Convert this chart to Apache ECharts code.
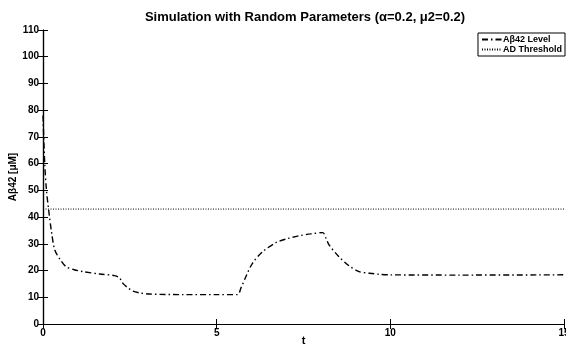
<!DOCTYPE html>
<html>
<head>
<meta charset="utf-8">
<script src="https://cdn.jsdelivr.net/npm/echarts@6/dist/echarts.min.js"></script>
<style>
  html, body { margin: 0; padding: 0; background: #fff; }
  #chart { width: 566px; height: 346px; }
</style>
</head>
<body>
<div id="chart"></div>
<script>
// values
const tValues = [0, 0.05, 0.1, 0.16, 0.25, 0.34, 0.5, 0.67, 0.9, 1.15, 1.63, 2.06, 2.2, 2.3, 2.45,
  2.59, 2.8, 3.07, 4, 5, 5.6, 5.7, 5.84, 6.03, 6.32, 6.7, 7.0, 7.37, 7.7, 8.05, 8.15, 8.24,
  8.52, 8.81, 9.1, 9.4, 9.67, 10, 12, 15];
const levelValues = [78, 60, 50, 43, 34, 27.7, 24, 21.4, 20.3, 19.6, 18.7, 18.1, 17.3, 15.2, 13.5,
  12.3, 11.6, 11.2, 11, 11, 11, 13.5, 17.7, 22.7, 27, 30.4, 31.8, 33.0, 33.7, 34.2, 32, 29.5,
  25.2, 21.8, 19.6, 19.0, 18.6, 18.4, 18.3, 18.4];
const thresholdT = [0, 15];
const thresholdValues = [43, 43];

const font = 'Liberation Sans, Arial, sans-serif';
const chart = echarts.init(document.getElementById('chart'));

const tickStyle = { inside: true, length: 5, lineStyle: { color: '#000', width: 1 } };
const lineStyle = { color: '#000', width: 1.2 };

chart.setOption({
  animation: false,
  backgroundColor: '#fff',
  title: {
    text: 'Simulation with Random Parameters (\u03b1=0.2, \u03bc2=0.2)',
    left: 305,
    textAlign: 'center',
    top: 11,
    padding: 0,
    textStyle: { fontFamily: font, fontSize: 13, fontWeight: 'bold', color: '#000' }
  },
  legend: {
    right: 1,
    top: 33,
    orient: 'vertical',
    itemGap: 1,
    itemWidth: 20,
    itemHeight: 8,
    padding: [2, 3, 2, 3],
    borderColor: '#000',
    borderWidth: 1,
    backgroundColor: '#fff',
    itemStyle: { opacity: 0 },
    textStyle: { fontFamily: font, fontSize: 9, fontWeight: 'bold', color: '#000', padding: [0, 0, 0, -4] },
    data: ['A\u03b242 Level', 'AD Threshold']
  },
  grid: { left: 43, right: 2, top: 30, bottom: 22, outerBoundsMode: 'none' },
  xAxis: [
    {
      type: 'value', min: 0, max: 15, interval: 5,
      name: 't', nameLocation: 'middle', nameGap: 11, nameMoveOverlap: false,
      nameTextStyle: { fontFamily: font, fontSize: 11, fontWeight: 'bold', color: '#000', verticalAlign: 'top' },
      axisLine: { lineStyle: lineStyle },
      axisTick: tickStyle,
      axisLabel: { fontFamily: font, fontSize: 10, fontWeight: 'bold', color: '#000', margin: 4 },
      splitLine: { show: false }
    },
    {
      type: 'value', min: 0, max: 15, interval: 5, position: 'top',
      axisLine: { lineStyle: lineStyle },
      axisTick: tickStyle,
      axisLabel: { show: false },
      splitLine: { show: false }
    }
  ],
  yAxis: [
    {
      type: 'value', min: 0, max: 110, interval: 10,
      name: 'A\u03b242 [\u03bcM]', nameLocation: 'middle', nameGap: 25, nameMoveOverlap: false,
      nameTextStyle: { fontFamily: font, fontSize: 10, fontWeight: 'bold', color: '#000' },
      axisLine: { show: true, lineStyle: lineStyle },
      axisTick: tickStyle,
      axisLabel: { fontFamily: font, fontSize: 10, fontWeight: 'bold', color: '#000', margin: 4 },
      splitLine: { show: false }
    },
    {
      type: 'value', min: 0, max: 110, interval: 10, position: 'right',
      axisLine: { show: true, lineStyle: lineStyle },
      axisTick: tickStyle,
      axisLabel: { show: false },
      splitLine: { show: false }
    }
  ],
  series: [
    {
      name: 'A\u03b242 Level',
      type: 'line',
      smooth: 0.3,
      showSymbol: false,
      symbol: 'none',
      color: '#000',
      lineStyle: { color: '#000', width: 1.4, type: [6, 3, 1.5, 3] },
      data: tValues.map((t, i) => [t, levelValues[i]])
    },
    {
      name: 'AD Threshold',
      type: 'line',
      showSymbol: false,
      symbol: 'none',
      color: '#000',
      lineStyle: { color: '#000', width: 1, type: [1, 1.5] },
      data: thresholdT.map((t, i) => [t, thresholdValues[i]])
    }
  ]
});
</script>
</body>
</html>
